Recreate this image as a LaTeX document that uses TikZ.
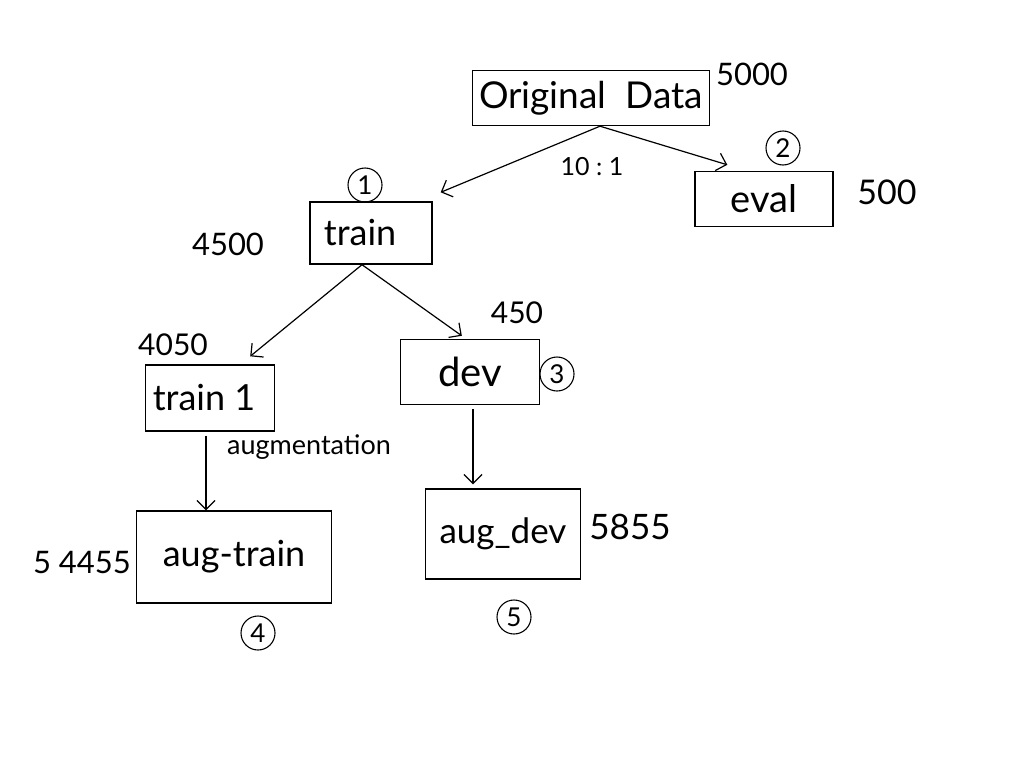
\documentclass[tikz,border=0pt]{standalone}
\usepackage{fontspec}
\setmainfont{Lato}
\usetikzlibrary{arrows.meta}
\newcommand\hsz[1]{\fontsize{#1}{#1}\selectfont}
\begin{document}
\begin{tikzpicture}[x=1pt,y=-1pt,
  box/.style={draw, line width=1.4pt, inner sep=0pt},
  num/.style={inner sep=0pt},
  circnum/.style={draw, circle, line width=1.1pt, minimum size=34pt, inner sep=0pt, font=\hsz{26}},
  arr/.style={line width=1.2pt, -{Straight Barb[length=9pt,width=18pt,line width=1.2pt]}}]
\useasboundingbox (0,0) rectangle (1024,768);
\fill[white] (0,0) rectangle (1024,768);

% boxes
\node[box, minimum width=237pt, minimum height=55pt, font=\hsz{37}] (orig) at (591,98) {Original\ \ Data};
\node[box, minimum width=138pt, minimum height=55pt, font=\hsz{38}] (eval) at (764,199) {eval};
\node[box, minimum width=122pt, minimum height=62pt, font=\hsz{36}] (train) at (371,233) {\hspace*{-22pt}train};
\node[box, minimum width=129pt, minimum height=66pt, font=\hsz{36}] (train1) at (210,398) {\hspace*{-12pt}train 1};
\node[box, minimum width=139pt, minimum height=65pt, font=\hsz{40}] (dev) at (470,372) {dev};
\node[box, minimum width=195pt, minimum height=92pt, font=\hsz{36}] (augtrain) at (234,557) {aug-train};
\node[box, minimum width=155pt, minimum height=90pt, font=\hsz{35}] (augdev) at (503,534) {aug\_dev};

% counts
\node[num, font=\hsz{31}] (n5000) at (752,74) {5000};
\node[num, font=\hsz{34}] (n500) at (887,192) {500};
\node[num, font=\hsz{31}] (n4500) at (228,244) {4500};
\node[num, font=\hsz{30}] (n4050) at (173,345) {4050};
\node[num, font=\hsz{30}] (n450) at (517,313) {450};
\node[num, font=\hsz{35}] (n5855) at (630,527) {5855};
\node[num, font=\hsz{31}] (n54455) at (82,563) {5\ 4455};
\node[num, font=\hsz{25}] (ratio) at (592,167) {10\ :\ 1};
\node[num, font=\hsz{27}] (augl) at (309,447) {augmentation};

% circled step numbers
\node[circnum] (c1) at (365,185) {1};
\node[circnum] (c2) at (783,148) {2};
\node[circnum] (c3) at (557,374) {3};
\node[circnum] (c4) at (258,633) {4};
\node[circnum] (c5) at (514,617) {5};

% connectors
\draw[arr] ([xshift=9pt]orig.south) -- ([xshift=8pt,yshift=9pt]train.north east);
\draw[arr] ([xshift=9pt]orig.south) -- ([xshift=33pt,yshift=6pt]eval.north west);
\draw[arr] ([xshift=-9pt]train.south) -- ([xshift=-25pt,yshift=8pt]train1.north east);
\draw[arr] ([xshift=-9pt]train.south) -- ([xshift=62pt,yshift=3pt]dev.north west);
\draw[arr] ([xshift=-4pt,yshift=-4pt]train1.south) -- ([xshift=-4pt]train1.south |- augtrain.north);
\draw[arr] ([xshift=3pt,yshift=-4pt]dev.south) -- ([xshift=3pt,yshift=4pt]dev.south |- augdev.north);
\end{tikzpicture}
\end{document}
